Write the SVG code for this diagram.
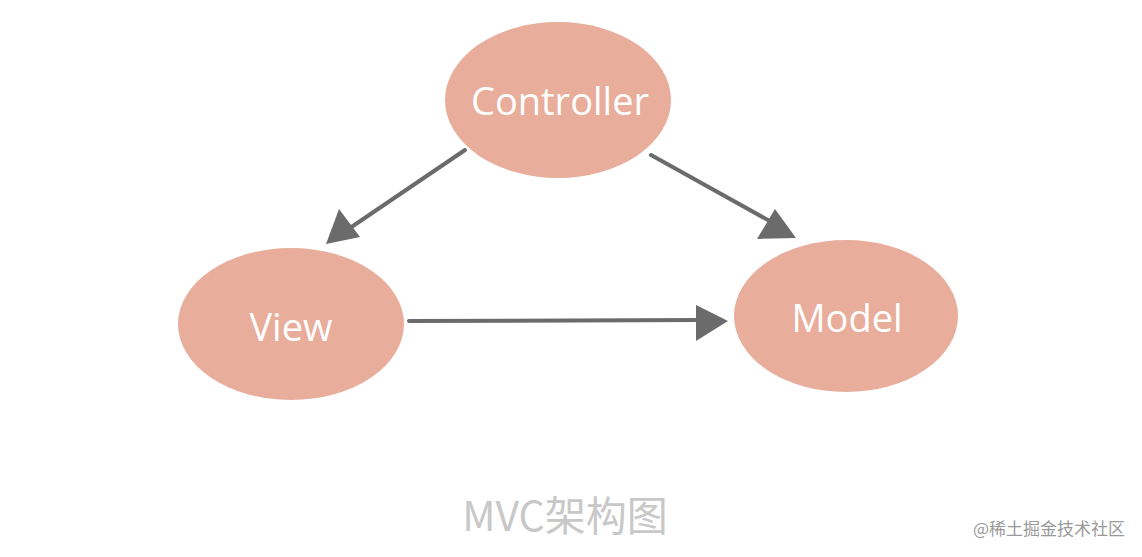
<svg xmlns="http://www.w3.org/2000/svg" width="1142" height="557" viewBox="0 0 1142 557">
<style>
.node{fill:#e8ad9b}
.lbl{fill:#fff;font-family:"Open Sans","DejaVu Sans",sans-serif;font-size:38px;text-anchor:middle;dominant-baseline:central}
.conn{stroke:#6b6b6b;stroke-width:4;fill:none;stroke-linecap:round}
.head{fill:#6b6b6b}
</style>
<rect width="1142" height="557" fill="#fff"/>
<g id="controller"><ellipse class="node" cx="558" cy="100" rx="113" ry="78"/><text class="lbl" x="560" y="100">Controller</text></g>
<g id="view"><ellipse class="node" cx="291" cy="324" rx="113" ry="76"/><text class="lbl" x="291" y="326">View</text></g>
<g id="model"><ellipse class="node" cx="846" cy="316" rx="112" ry="76"/><text class="lbl" x="847" y="317">Model</text></g>
<g id="connectors">
<line class="conn" x1="465" y1="150" x2="350" y2="228"/>
<polygon class="head" points="326,244 339,209 360,237"/>
<line class="conn" x1="651" y1="155" x2="775" y2="224"/>
<polygon class="head" points="796,238 757,239 775,209"/>
<line class="conn" x1="409" y1="321" x2="700" y2="320"/>
<polygon class="head" points="728,321 696,305 696,341"/>
</g>
<text x="565" y="513" font-family="'Noto Sans CJK SC',sans-serif" font-size="41" fill="#c8c8c8" text-anchor="middle" dominant-baseline="central">MVC架构图</text>
<text x="1125" y="527" font-family="'Noto Sans CJK SC',sans-serif" font-size="17" fill="#9a9a9a" text-anchor="end" dominant-baseline="central">@稀土掘金技术社区</text>
</svg>
